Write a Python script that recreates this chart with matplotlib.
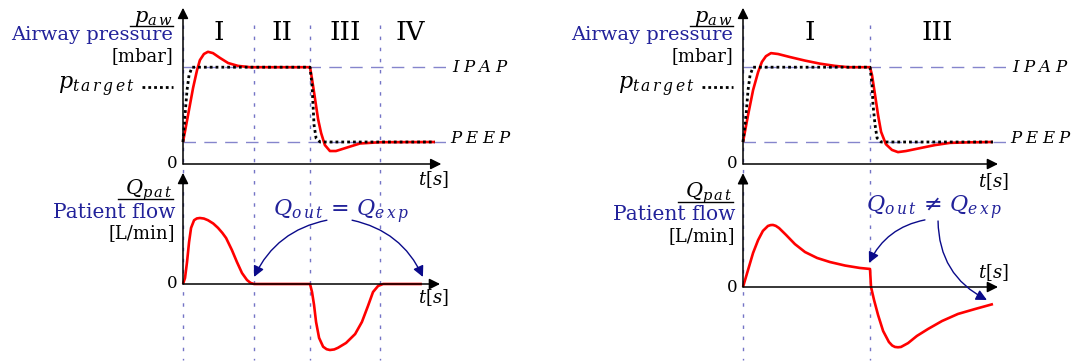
import matplotlib.pyplot as plt
from matplotlib import transforms as mtransforms

W, H = 1089, 363
plt.rcParams['font.family'] = 'DejaVu Serif'
plt.rcParams['mathtext.fontset'] = 'dejavuserif'

RED = '#ff0000'
NAVY = '#0a0a8a'
TXT_BLUE = '#22229a'
REF_BLUE = '#8585cc'
PHASE_BLUE = '#7474c6'

# pressure levels [mbar]
IPAP, PEEP = 22.0, 5.0

# --- left: Q_out = Q_exp ---------------------------------------------------
phases_L = [0.0, 2.8, 5.04, 7.8]
roman_L = ['I', 'II', 'III', 'IV']
roman_L_t = [1.4, 3.92, 6.42, 9.0]

t_paw_L = [0, 0.2, 0.4, 0.56, 0.67, 0.83, 0.99, 1.19, 1.47, 1.79, 2.18, 2.66, 5.04,
           5.12, 5.24, 5.36, 5.48, 5.63, 5.83, 6.07, 6.43, 7.02, 7.82, 10.0]
paw_L = [5.0, 11.1, 17.3, 21.4, 23.6, 25.0, 25.5, 25.2, 24.1, 22.95, 22.3, 22.0, 22.0,
         19.3, 14.8, 10.2, 7.05, 4.3, 2.95, 2.95, 3.6, 4.66, 4.95, 5.0]

t_target_L = [0, 0.08, 0.16, 0.24, 0.36, 5.04, 5.12, 5.16, 5.2, 5.28, 5.44, 10.0]
target_L = [5.0, 11.1, 16.8, 20.2, 22.0, 22.0, 17.95, 13.4, 8.9, 5.9, 5.0, 5.0]

t_flow_L = [0, 0.08, 0.16, 0.24, 0.32, 0.44, 0.55, 0.67, 0.83, 0.99, 1.2, 1.39, 1.56,
            1.71, 1.94, 2.14, 2.34, 2.54, 2.68, 2.82, 5.04, 5.12, 5.2, 5.28, 5.4, 5.56,
            5.7, 5.83, 6.0, 6.15, 6.47, 6.83, 7.1, 7.34, 7.54, 7.74, 7.94, 9.48]
flow_L = [0, 5.5, 20, 38, 51, 58, 59.6, 60, 59.5, 58, 55, 51, 46.5,
          41.8, 30.9, 20, 10, 3.6, 1.0, 0, 0, -7.3, -19, -34.5, -49, -57,
          -59.3, -60, -59.5, -58, -53.6, -45.5, -34.5, -20, -7.3, -1.8, 0, 0]

# --- right: Q_out != Q_exp -------------------------------------------------
phases_R = [0.0, 5.04]
roman_R = ['I', 'III']
roman_R_t = [2.66, 7.7]

t_paw_R = [0, 0.2, 0.4, 0.6, 0.75, 0.91, 1.11, 1.39, 1.87, 2.46, 3.06, 3.65, 4.17, 5.04,
           5.12, 5.24, 5.36, 5.48, 5.67, 5.91, 6.15, 6.47, 7.02, 7.62, 8.21, 9.0, 9.92]
paw_R = [5.0, 11.1, 16.8, 20.9, 23.2, 24.5, 25.2, 25.0, 24.3, 23.5, 22.8, 22.3, 22.0, 22.0,
         20.2, 15.7, 11.1, 7.3, 4.5, 3.2, 2.7, 2.95, 3.6, 4.3, 4.8, 4.93, 5.0]

t_target_R = [0, 0.12, 0.2, 0.28, 0.4, 5.04, 5.12, 5.16, 5.24, 5.32, 5.48, 9.92]
target_R = [5.0, 11.1, 16.8, 20.2, 22.0, 22.0, 18.0, 13.4, 8.9, 5.9, 5.0, 5.0]

t_flow_R = [0, 0.2, 0.4, 0.6, 0.79, 0.99, 1.1, 1.19, 1.3, 1.43, 1.71, 2.06, 2.46, 2.94,
            3.45, 4.05, 4.64, 5.04, 5.08, 5.2, 5.36, 5.56, 5.79, 5.92, 6.03, 6.15, 6.27,
            6.55, 6.9, 7.34, 7.9, 8.53, 9.21, 9.92]
flow_R = [0, 15.5, 31, 42.7, 51, 55.5, 56.3, 56.4, 55.6, 53.6, 47.3, 39, 31.8, 26.4,
          22.7, 19.5, 17.3, 16.4, 0, -11.8, -25.5, -40, -50, -53.2, -54.5, -54.8, -54.5,
          -51, -44.5, -38.2, -30.9, -24.5, -20, -15.5]

# scales in pixels per unit
PX_T, PX_P, PX_Q = 25.2, 4.4, 1.1
XLIM = (-0.6, 11.2)
PLIM = (-2.0, 36.0)
QLIM = (-72.0, 108.0)

fig = plt.figure(figsize=(W / 100, H / 100), dpi=100)

# full-figure layer in pixel units for labels and guide lines
ax0 = fig.add_axes([0, 0, 1, 1], zorder=0)
ax0.set_xlim(0, W)
ax0.set_ylim(H, 0)
ax0.axis('off')


def panel(x0, y0, yscale, ylim):
    left = (x0 + XLIM[0] * PX_T) / W
    width = (XLIM[1] - XLIM[0]) * PX_T / W
    bottom = (H - (y0 - ylim[0] * yscale)) / H
    height = (ylim[1] - ylim[0]) * yscale / H
    ax = fig.add_axes([left, bottom, width, height], zorder=1)
    ax.set_xlim(*XLIM)
    ax.set_ylim(*ylim)
    ax.axis('off')
    ax.patch.set_visible(False)
    return ax


def axes_arrows(ax, tmax, ymax):
    kw = dict(arrowstyle='-|>', color='k', lw=1.1, mutation_scale=16,
              shrinkA=0, shrinkB=0)
    ax.annotate('', xy=(tmax, 0), xytext=(0, 0), arrowprops=kw, annotation_clip=False)
    ax.annotate('', xy=(0, ymax), xytext=(0, 0), arrowprops=kw, annotation_clip=False)


def red_curve(ax, t, v):
    ax.plot(t, v, color=RED, lw=1.9, zorder=3, solid_joinstyle='round',
            solid_capstyle='butt')


def pressure_panel(ax, t_paw, paw, t_tg, tg, tmax):
    for lvl in (IPAP, PEEP):
        ax.plot([0, 10.55], [lvl, lvl], color=REF_BLUE, lw=1.0, dashes=(9, 6),
                clip_on=False, zorder=1)
    red_curve(ax, t_paw, paw)
    ax.plot(t_tg, tg, color='k', lw=2.0, dashes=(1, 1.1), zorder=4)
    axes_arrows(ax, tmax, 35.5)
    ax.text(10.68, IPAP, r'$I\;P\;A\;P$', fontsize=12, va='center', ha='left')
    ax.text(10.6, PEEP + 0.8, r'$P\;E\;E\;P$', fontsize=12, va='center', ha='left')


def phase_lines(ax_ref, phases):
    trans = mtransforms.blended_transform_factory(ax_ref.transData, ax0.transData)
    for t in phases:
        ax0.plot([t, t], [25, 360], color=PHASE_BLUE, lw=1.0, dashes=(2.5, 5.5),
                 transform=trans)


def side_labels(xr, y_p, y_q):
    # pressure axis
    ax0.text(xr, y_p - 142, r'$p_{a\,w}$', fontsize=15, ha='right', va='baseline')
    ax0.plot([xr - 43, xr], [y_p - 138, y_p - 138], color='k', lw=1.0)
    ax0.text(xr, y_p - 129, 'Airway pressure', fontsize=14, color=TXT_BLUE,
             ha='right', va='center')
    ax0.text(xr, y_p - 108, '[mbar]', fontsize=13, ha='right', va='center')
    ax0.text(xr - 38, y_p - 77, r'$p_{t\,a\,r\,g\,e\,t}$', fontsize=16, ha='right',
             va='center')
    ax0.plot([xr - 31, xr], [y_p - 77, y_p - 77], color='k', lw=2.0, dashes=(1, 1.1))
    ax0.text(xr + 5, y_p, '0', fontsize=12, ha='right', va='center')
    # flow axis
    ax0.text(xr, y_q - 89, r'$Q_{p\,a\,t}$', fontsize=15, ha='right', va='baseline')
    ax0.plot([xr - 55, xr], [y_q - 85, y_q - 85], color='k', lw=1.0)
    ax0.text(xr + 2, y_q - 72, 'Patient flow', fontsize=14.5, color=TXT_BLUE,
             ha='right', va='center')
    ax0.text(xr + 2, y_q - 51, '[L/min]', fontsize=13, ha='right', va='center')
    ax0.text(xr + 5, y_q, '0', fontsize=12, ha='right', va='center')


arrow_kw = dict(arrowstyle='-|>', color=NAVY, lw=1.0, mutation_scale=16,
                shrinkA=0, shrinkB=0)

# ---------------- left half ----------------
axL_p = panel(183, 164, PX_P, PLIM)
axL_q = panel(183, 284, PX_Q, QLIM)
phase_lines(axL_p, phases_L)
pressure_panel(axL_p, t_paw_L, paw_L, t_target_L, target_L, 10.25)
for t, s in zip(roman_L_t, roman_L):
    axL_p.text(t, 29.8, s, fontsize=19, ha='center', va='center')

red_curve(axL_q, t_flow_L, flow_L)
axes_arrows(axL_q, 10.2, 101)
axL_q.text(6.27, 65.5, r'$Q_{o\,u\,t}\,=\,Q_{e\,x\,p}$', fontsize=16, color=TXT_BLUE,
           ha='center', va='center')
axL_q.annotate('', xy=(2.82, 6.4), xytext=(5.71, 58),
               arrowprops=dict(connectionstyle='arc3,rad=0.25', **arrow_kw))
axL_q.annotate('', xy=(9.52, 6.4), xytext=(6.71, 58),
               arrowprops=dict(connectionstyle='arc3,rad=-0.25', **arrow_kw))
side_labels(173, 164, 284)
ax0.text(433, 180, r'$t[s]$', fontsize=13, ha='center', va='center')
ax0.text(433, 298, r'$t[s]$', fontsize=13, ha='center', va='center')

# ---------------- right half ----------------
axR_p = panel(743, 164, PX_P, PLIM)
axR_q = panel(743, 287, PX_Q, QLIM)
phase_lines(axR_p, phases_R)
pressure_panel(axR_p, t_paw_R, paw_R, t_target_R, target_R, 10.12)
for t, s in zip(roman_R_t, roman_R):
    axR_p.text(t, 29.8, s, fontsize=19, ha='center', va='center')

red_curve(axR_q, t_flow_R, flow_R)
axes_arrows(axR_q, 10.12, 103.5)
axR_q.text(7.58, 71.8, r'$Q_{o\,u\,t}\,\neq\,Q_{e\,x\,p}$', fontsize=16, color=TXT_BLUE,
           ha='center', va='center')
axR_q.annotate('', xy=(5.0, 21.8), xytext=(7.22, 61),
               arrowprops=dict(connectionstyle='arc3,rad=0.25', **arrow_kw))
axR_q.annotate('', xy=(9.68, -11.8), xytext=(7.74, 60),
               arrowprops=dict(connectionstyle='arc3,rad=0.3', **arrow_kw))
side_labels(733, 164, 287)
ax0.text(993, 182, r'$t[s]$', fontsize=13, ha='center', va='center')
ax0.text(993, 273, r'$t[s]$', fontsize=13, ha='center', va='center')

fig.savefig('out.png', dpi=100)
